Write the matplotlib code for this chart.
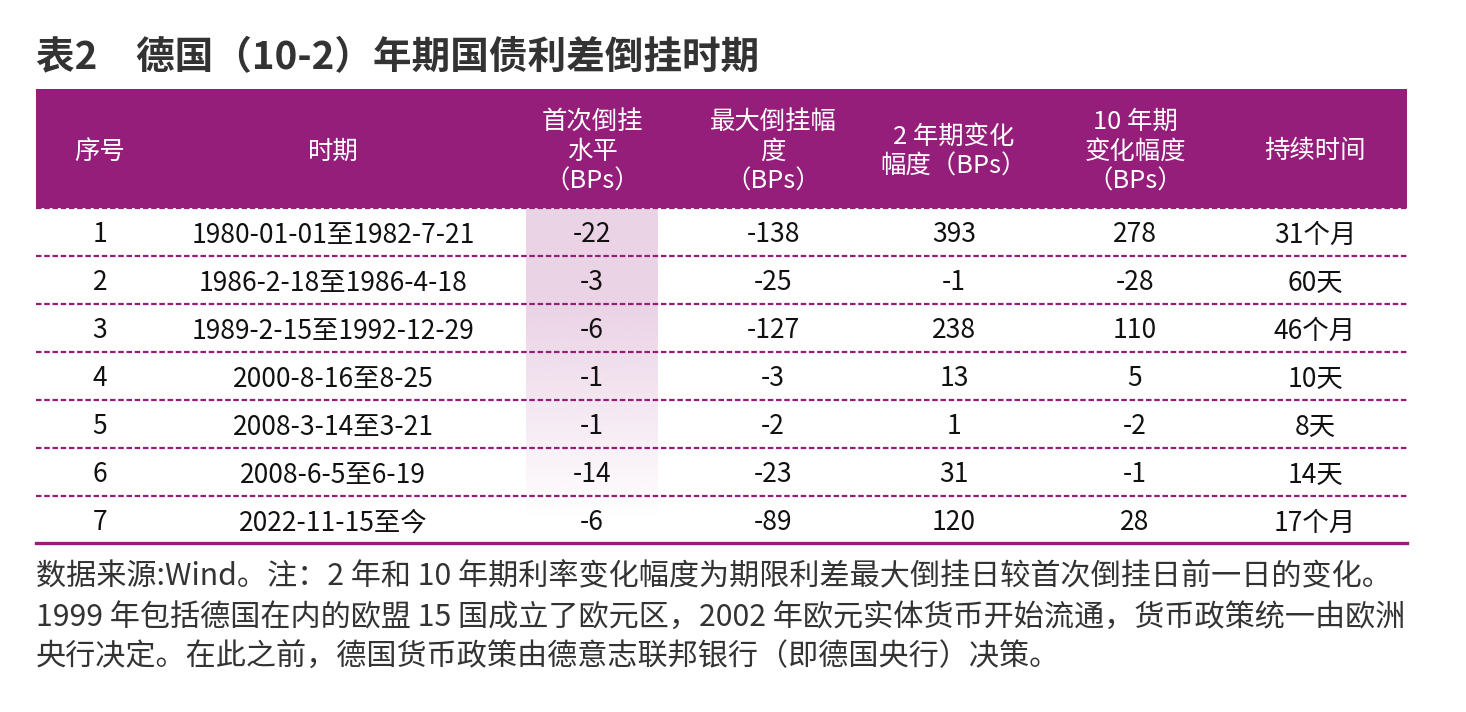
import numpy as np
import matplotlib
matplotlib.use("Agg")
import matplotlib.pyplot as plt

plt.rcParams['font.family'] = ['Noto Sans CJK SC', 'DejaVu Sans']

# table content
title = "表2　德国（10-2）年期国债利差倒挂时期"
headers = ["序号", "时期", "首次倒挂\n水平\n（BPs）", "最大倒挂幅\n度\n（BPs）",
           "2 年期变化\n幅度（BPs）", "10 年期\n变化幅度\n（BPs）", "持续时间"]
seq = ["1", "2", "3", "4", "5", "6", "7"]
periods = ["1980-01-01至1982-7-21", "1986-2-18至1986-4-18", "1989-2-15至1992-12-29",
           "2000-8-16至8-25", "2008-3-14至3-21", "2008-6-5至6-19", "2022-11-15至今"]
first_inv = [-22, -3, -6, -1, -1, -14, -6]
max_inv = [-138, -25, -127, -3, -2, -23, -89]
chg_2y = [393, -1, 238, 13, 1, 31, 120]
chg_10y = [278, -28, 110, 5, -2, -1, 28]
duration = ["31个月", "60天", "46个月", "10天", "8天", "14天", "17个月"]
notes = ["数据来源:Wind。注：2 年和 10 年期利率变化幅度为期限利差最大倒挂日较首次倒挂日前一日的变化。",
         "1999 年包括德国在内的欧盟 15 国成立了欧元区，2002 年欧元实体货币开始流通，货币政策统一由欧洲",
         "央行决定。在此之前，德国货币政策由德意志联邦银行（即德国央行）决策。"]

# layout (pixels)
W, H = 1466, 712
left, right = 36, 1407
head_top, head_bot = 89, 208
row_h = 48
col_x = [100, 333, 592, 773, 954, 1135, 1315]
hl_x0, hl_x1 = 526, 658
purple = "#951e7a"

fig = plt.figure(figsize=(W / 100, H / 100), dpi=100)
ax = fig.add_axes([0, 0, 1, 1])
ax.set_xlim(0, W)
ax.set_ylim(H, 0)
ax.axis("off")

ax.text(left, 58, title, fontsize=27.8, fontweight="bold", color="#333333",
        ha="left", va="center")

# header band
ax.add_patch(plt.Rectangle((left, head_top), right - left, head_bot - head_top,
                           color=purple, lw=0))
for x, h in zip(col_x, headers):
    ax.text(x, (head_top + head_bot) / 2 + 3, h, fontsize=18.3, color="white",
            fontweight="medium", ha="center", va="center", linespacing=1.2)

n = len(seq)
table_bot = head_bot + n * row_h

# highlighted column with fade
grad = np.ones((256, 1, 4))
grad[..., 0] = 0xEB / 255
grad[..., 1] = 0xD3 / 255
grad[..., 2] = 0xE6 / 255
t = np.linspace(0, 1, 256)
grad[:, 0, 3] = np.clip((1 - t) / 0.68, 0, 1)
ax.imshow(grad, extent=(hl_x0, hl_x1, table_bot - 26, head_bot),
          aspect="auto", interpolation="bilinear", zorder=1)
ax.set_xlim(0, W)
ax.set_ylim(H, 0)

cols = [seq, periods, first_inv, max_inv, chg_2y, chg_10y, duration]
for i in range(n):
    yc = head_bot + row_h * (i + 0.5) + 3
    for x, c in zip(col_x, cols):
        ax.text(x, yc, str(c[i]), fontsize=19, color="#111111",
                ha="center", va="center", zorder=3)
    ax.plot([left, right], [head_bot + row_h * i] * 2, color=purple, lw=1.6,
            ls=(0, (2.5, 1.2)), zorder=2, solid_capstyle="butt")

ax.plot([left, right], [table_bot - 1] * 2, color=purple, lw=2.4, zorder=2)

for k, line in enumerate(notes):
    ax.text(left, 577 + k * 40, line, fontsize=21.7, color="#333333",
            ha="left", va="center")

fig.savefig("out.png", dpi=100)
